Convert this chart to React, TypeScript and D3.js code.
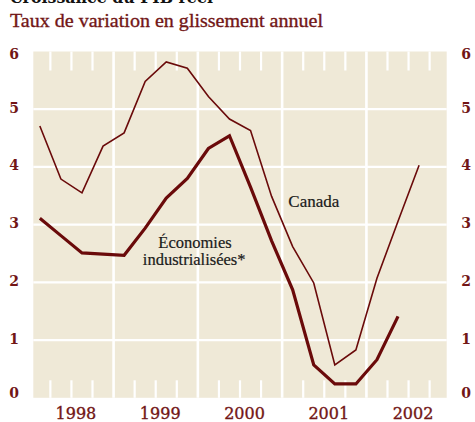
import React from "react";
import * as d3 from "d3";

const title = "Croissance du PIB réel";
const subtitle = "Taux de variation en glissement annuel";
const years = [1998, 1999, 2000, 2001, 2002];
const yTicks = [0, 1, 2, 3, 4, 5, 6];
// quarterly observations starting 1998 T1
const canada = [4.71, 3.79, 3.55, 4.36, 4.59, 5.48, 5.82, 5.71, 5.22, 4.83, 4.63, 3.49, 2.62, 1.99, 0.57, 0.83, 2.07, 3.06, 4.03];
const industrial = [3.11, 2.81, 2.51, 2.49, 2.47, 2.94, 3.46, 3.8, 4.32, 4.54, 3.65, 2.72, 1.87, 0.57, 0.24, 0.24, 0.66, 1.41];
const startYear = 1998;

const W = 475, H = 422;
const BG = "#efe9d7";
const LINE = "#6a0a0a";
const RED = "#721616";

export default function App() {
  const x = d3.scaleLinear().domain([1998, 2003]).range([29.3, 450.7]);
  const y = d3.scaleLinear().domain([0, 6]).range([397.8, 51.5]);
  const left = 33.3, right = 446.7, top = y(6), bottom = y(0);
  const t = (i: number) => startYear + (i + 0.5) / 4;
  const line = d3.line<number>().x((_, i) => x(t(i))).y((d) => y(d)).curve(d3.curveLinear);
  const quarterTicks: number[] = [];
  years.forEach((yr) => [0.25, 0.5, 0.75].forEach((q) => quarterTicks.push(yr + q)));
  const serif = "'DejaVu Serif', serif";
  const times = "'Liberation Serif', serif";
  return (
    <svg width={W} height={H} style={{ position: "absolute", left: 0, top: 0, background: "#fff" }}>
      <text x={10} y={3} fontFamily={serif} fontWeight="bold" fontSize={17} fill="#111" textLength={203} lengthAdjust="spacingAndGlyphs">{title}</text>
      <text x={10} y={27} fontFamily={times} fontSize={19.5} fill={RED} stroke={RED} strokeWidth={0.35} textLength={313} lengthAdjust="spacingAndGlyphs">{subtitle}</text>
      <rect x={left} y={top} width={right - left} height={bottom - top} fill={BG} />
      {yTicks.filter((v) => v > 0 && v < 6).map((v) => (
        <line key={"h" + v} x1={left} x2={right} y1={y(v)} y2={y(v)} stroke="#fff" strokeWidth={2.2} />
      ))}
      {years.slice(1).map((yr) => (
        <line key={"v" + yr} x1={x(yr)} x2={x(yr)} y1={top} y2={bottom} stroke="#fff" strokeWidth={2.6} />
      ))}
      {quarterTicks.map((q) => (
        <g key={"q" + q}>
          <line x1={x(q)} x2={x(q)} y1={top} y2={top + 19} stroke="#fff" strokeWidth={2.2} />
          <line x1={x(q)} x2={x(q)} y1={bottom - 17.5} y2={bottom} stroke="#fff" strokeWidth={2.2} />
        </g>
      ))}
      <path d={line(canada) || ""} fill="none" stroke={LINE} strokeWidth={1.6} strokeLinejoin="miter" />
      <path d={line(industrial) || ""} fill="none" stroke={LINE} strokeWidth={3.2} strokeLinejoin="miter" />
      {yTicks.map((v) => {
        const by = v === 6 ? y(v) + 7.5 : v === 0 ? y(v) : y(v) + 3.5;
        return (
          <g key={"yl" + v}>
            <text x={14} y={by} textAnchor="middle" fontFamily={serif} fontWeight="bold" fontSize={14} fill={RED}>{v}</text>
            <text x={466} y={by} textAnchor="middle" fontFamily={serif} fontWeight="bold" fontSize={14} fill={RED}>{v}</text>
          </g>
        );
      })}
      {years.map((yr) => (
        <text key={"yr" + yr} x={x(yr + 0.5) + 4.5} y={419} textAnchor="middle" fontFamily={serif} fontSize={16} fill={RED} stroke={RED} strokeWidth={0.35}>{yr}</text>
      ))}
      <text x={313.8} y={207.3} textAnchor="middle" fontFamily={times} fontSize={17} fill="#1a1a1a" stroke="#1a1a1a" strokeWidth={0.2}>Canada</text>
      <text x={195} y={248.3} textAnchor="middle" fontFamily={times} fontSize={16.5} fill="#1a1a1a" stroke="#1a1a1a" strokeWidth={0.2}>Économies</text>
      <text x={194.2} y={265.3} textAnchor="middle" fontFamily={times} fontSize={16.5} fill="#1a1a1a" stroke="#1a1a1a" strokeWidth={0.2}>industrialisées*</text>
    </svg>
  );
}
